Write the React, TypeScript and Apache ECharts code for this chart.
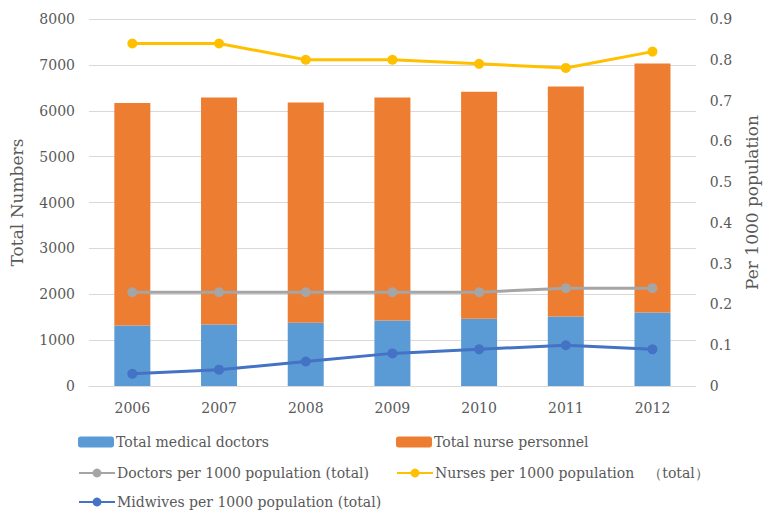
import React, { useEffect, useRef } from "react";
import * as echarts from "echarts";

const years = ["2006", "2007", "2008", "2009", "2010", "2011", "2012"];
const doctorsTotal = [1320, 1340, 1380, 1430, 1465, 1515, 1600];
const nursesTotal = [4850, 4950, 4800, 4860, 4950, 5015, 5430];
const doctorsPer1000 = [0.23, 0.23, 0.23, 0.23, 0.23, 0.24, 0.24];
const nursesPer1000 = [0.84, 0.84, 0.8, 0.8, 0.79, 0.78, 0.82];
const midwivesPer1000 = [0.03, 0.04, 0.06, 0.08, 0.09, 0.1, 0.09];

const NAMES = {
  doc: "Total medical doctors",
  nur: "Total nurse personnel",
  docP: "Doctors per 1000 population (total)",
  nurP: "Nurses per 1000 population\u3000\uff08total\uff09",
  midP: "Midwives per 1000 population (total)",
};

const FONT = "'DejaVu Serif', 'Liberation Serif', serif";
const TXT = "#595959";

export default function App() {
  const ref = useRef<HTMLDivElement>(null);
  useEffect(() => {
    if (!ref.current) return;
    const chart = echarts.init(ref.current, null, { renderer: "svg" });
    const legendBase = {
      itemWidth: 36,
      itemHeight: 11,
      textStyle: { fontFamily: FONT, fontSize: 14, color: TXT, padding: [0, 0, 0, -3] },
      padding: 0,
    };
    const lineSeries = (name: string, data: number[], color: string) => ({
      name,
      type: "line",
      yAxisIndex: 1,
      data,
      symbol: "circle",
      symbolSize: 10,
      lineStyle: { width: 3, color },
      itemStyle: { color },
      z: 5,
    });
    chart.setOption({
      animation: false,
      textStyle: { fontFamily: FONT },
      grid: { left: 86, right: 62, top: 19, bottom: 127 },
      legend: [
        { ...legendBase, data: [NAMES.doc], left: 78, top: 435 },
        { ...legendBase, data: [NAMES.nur], left: 396, top: 435 },
        { ...legendBase, data: [NAMES.docP], left: 78, top: 466 },
        { ...legendBase, data: [NAMES.nurP], left: 396, top: 466 },
        { ...legendBase, data: [NAMES.midP], left: 78, top: 495 },
      ],
      xAxis: {
        type: "category",
        data: years,
        axisTick: { show: false },
        axisLine: { lineStyle: { color: "#d9d9d9" } },
        axisLabel: { color: TXT, fontSize: 14, fontFamily: FONT, margin: 15 },
      },
      yAxis: [
        {
          type: "value",
          min: 0,
          max: 8000,
          interval: 1000,
          name: "Total Numbers",
          nameLocation: "middle",
          nameGap: 64,
          nameTextStyle: { color: TXT, fontSize: 17, fontFamily: FONT },
          axisLine: { show: false },
          axisTick: { show: false },
          axisLabel: {
            color: TXT,
            fontSize: 14,
            fontFamily: FONT,
            margin: 14,
            formatter: (v: number) => String(v),
          },
          splitLine: { lineStyle: { color: "#d9d9d9" } },
        },
        {
          type: "value",
          min: 0,
          max: 0.9,
          interval: 0.1,
          name: "Per 1000 population",
          nameLocation: "middle",
          nameGap: 47,
          nameRotate: 90,
          nameTextStyle: { color: TXT, fontSize: 17, fontFamily: FONT },
          axisLine: { show: false },
          axisTick: { show: false },
          axisLabel: { color: TXT, fontSize: 14, fontFamily: FONT, margin: 14 },
          splitLine: { show: false },
        },
      ],
      series: [
        {
          name: NAMES.doc,
          type: "bar",
          stack: "total",
          data: doctorsTotal,
          barWidth: 36,
          itemStyle: { color: "#5B9BD5" },
        },
        {
          name: NAMES.nur,
          type: "bar",
          stack: "total",
          data: nursesTotal,
          barWidth: 36,
          itemStyle: { color: "#ED7D31" },
        },
        lineSeries(NAMES.docP, doctorsPer1000, "#A5A5A5"),
        lineSeries(NAMES.nurP, nursesPer1000, "#FFC000"),
        lineSeries(NAMES.midP, midwivesPer1000, "#4472C4"),
      ],
    });
    return () => chart.dispose();
  }, []);
  return (
    <div
      ref={ref}
      style={{ position: "fixed", left: 0, top: 0, width: 768, height: 513, background: "#fff" }}
    />
  );
}
